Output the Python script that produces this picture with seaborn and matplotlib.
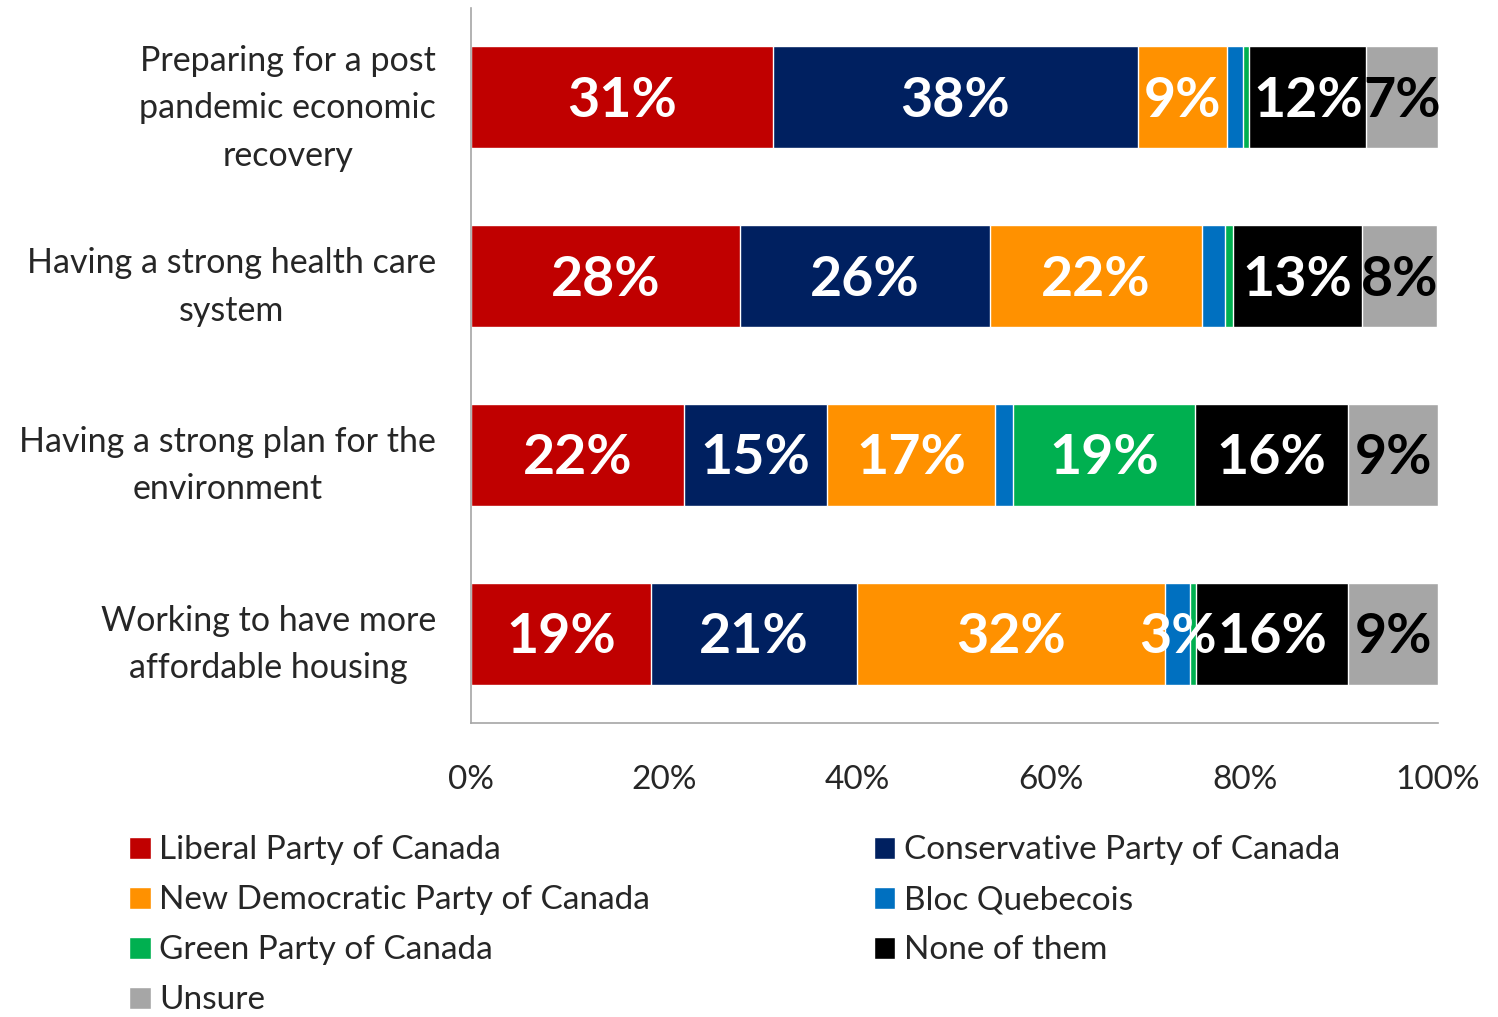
import numpy as np
import matplotlib
matplotlib.use("Agg")
import matplotlib.pyplot as plt
import seaborn as sns
from matplotlib.patches import Patch

# data
questions = [
    "Preparing for a post\npandemic economic\nrecovery",
    "Having a strong health care\nsystem",
    "Having a strong plan for the\nenvironment",
    "Working to have more\naffordable housing",
]
parties = [
    "Liberal Party of Canada",
    "Conservative Party of Canada",
    "New Democratic Party of Canada",
    "Bloc Quebecois",
    "Green Party of Canada",
    "None of them",
    "Unsure",
]
liberal = [31.2, 27.8, 22.0, 18.6]
conservative = [37.8, 25.9, 14.8, 21.3]
ndp = [9.2, 21.9, 17.4, 31.9]
bloc = [1.6, 2.4, 1.9, 2.6]
green = [0.7, 0.8, 18.8, 0.6]
none_of_them = [12.1, 13.3, 15.8, 15.7]
unsure = [7.4, 7.8, 9.3, 9.3]

colors = ["#C00000", "#002060", "#FF9100", "#0070C0", "#00B050", "#000000", "#A6A6A6"]
label_colors = ["white", "white", "white", "white", "white", "white", "black"]

sns.set_style("white")
plt.rcParams["font.family"] = ["Lato", "DejaVu Sans"]

values = np.array([liberal, conservative, ndp, bloc, green, none_of_them, unsure])
cum = values.cumsum(axis=0)

fig = plt.figure(figsize=(14.98, 10.17), dpi=100)
ax = fig.add_axes([471 / 1498, 1 - 723 / 1017, 967 / 1498, 715 / 1017])

# overplot cumulative totals, longest first, to get stacked bars
for i in range(len(parties) - 1, -1, -1):
    sns.barplot(x=cum[i], y=questions, orient="h", color=colors[i],
                width=0.57, saturation=1, ax=ax)

for i in range(len(parties)):
    for j in range(len(questions)):
        v = values[i, j]
        if v >= 2.5:
            ax.text(cum[i, j] - v / 2, j + 0.02, f"{round(v):.0f}%", ha="center", va="center",
                    fontsize=40, fontweight="bold", color=label_colors[i])

ax.set_xlim(0, 100)
ax.set_ylim(3.5, -0.5)
ax.set_xticks([0, 20, 40, 60, 80, 100])
ax.set_xticklabels(["0%", "20%", "40%", "60%", "80%", "100%"])
ax.set_xlabel("")
ax.set_ylabel("")
ax.tick_params(axis="x", length=0, pad=30, labelsize=24)
ax.tick_params(axis="y", length=0, pad=25, labelsize=24.5)
for t in ax.get_yticklabels():
    t.set_multialignment("center")
    t.set_linespacing(1.6)
for s in ["top", "right"]:
    ax.spines[s].set_visible(False)
for s in ["left", "bottom"]:
    ax.spines[s].set_color("#A6A6A6")
    ax.spines[s].set_linewidth(1.2)

# legend, row-major order in two columns
order = [0, 2, 4, 6, 1, 3, 5]
handles = [Patch(facecolor=colors[k], label=parties[k]) for k in order]
fig.legend(handles=handles, loc="upper left", bbox_to_anchor=(116 / 1498, 1 - 822 / 1017),
           ncol=2, frameon=False, fontsize=24, handlelength=0.65, handleheight=0.65,
           handletextpad=0.25, columnspacing=6.7, labelspacing=0.6, borderaxespad=0)

fig.savefig("out.png", dpi=100)
